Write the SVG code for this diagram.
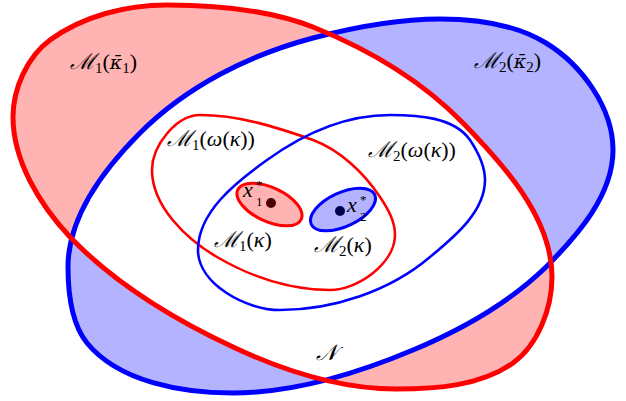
<svg xmlns="http://www.w3.org/2000/svg" width="626" height="401" viewBox="0 0 626 401">
<style>
.big{fill:none;stroke-width:5;stroke-linejoin:round}
.mid{fill:none;stroke-width:2.6}
.sm{stroke-width:3}
.r{stroke:#ff0000}
.b{stroke:#0000ff}
.lbl{font-family:"Liberation Serif","DejaVu Serif",serif;font-size:22px;fill:#000}
.cal{font-family:"DejaVu Serif","Liberation Serif",serif;font-size:22px;font-style:italic}
.dv{font-family:"DejaVu Serif",serif;font-size:19px;font-style:italic}
.it{font-style:italic}
.sub{font-size:15px}
.ss{font-size:13px}
</style>
<defs>
<path id="redBig" d="M167,5 C216,5 267,9 313,27 C368,49 422,81 463,123 C504,165 552,218 552,277 C552,308 538,345 513,363 C481,386 436,389 396,389 C340,389 284,371 233,347 C173,319 116,285 70,237 C40,205 13,161 13,117 C13,89 27,57 50,40 C83,16 126,5 167,5 Z"/>
<path id="blueBig" d="M440,19 C476,19 515,24 546,43 C582,65 613,108 613,150 C613,195 578,235 546,267 C509,303 461,330 413,350 C356,374 295,393 233,393 C182,393 119,382 87,343 C71,323 68,293 68,267 C68,216 104,169 140,133 C187,86 249,55 313,38 C355,27 397,19 440,19 Z"/>
<clipPath id="clipBlue"><use href="#blueBig"/></clipPath>
</defs>
<g id="regions">
<use href="#redBig" fill="#ffb3b3"/>
<use href="#blueBig" fill="#b3b3ff"/>
<use href="#redBig" fill="#ffffff" clip-path="url(#clipBlue)"/>
</g>
<g id="node-M2-kbar2"><use href="#blueBig" class="big b"/></g>
<g id="node-M1-kbar1"><use href="#redBig" class="big r"/></g>
<g id="node-M1-omega">
<path class="mid r" d="M200,115 C239,115 276,127 313,140 C340,150 364,173 380,197 C388,209 395,221 395,235 C395,263 358,290 330,290 C291,290 251,277 217,257 C186,239 152,206 152,170 C152,146 176,115 200,115 Z"/>
</g>
<g id="node-M2-omega">
<path class="mid b" d="M390,115 C418,115 454,117 470,140 C478,152 485,166 485,180 C485,212 454,237 430,257 C390,291 333,310 280,310 C246,310 198,284 198,250 C198,212 236,182 267,160 C303,134 346,115 390,115 Z"/>
</g>
<g id="node-M1-k">
<ellipse cx="269.5" cy="204.5" rx="35" ry="17" transform="rotate(25 269.5 204.5)" fill="#ffb3b3" class="sm r"/>
<circle cx="271" cy="203" r="5" fill="#4d0000"/>
</g>
<g id="node-M2-k">
<ellipse cx="343" cy="209.5" rx="35" ry="17" transform="rotate(-25 343 209.5)" fill="#b3b3ff" class="sm b"/>
<circle cx="340" cy="211" r="5" fill="#00004d"/>
</g>
<g id="labels" class="lbl">
<text x="70" y="69"><tspan class="cal">ℳ</tspan><tspan class="sub" dy="4">1</tspan><tspan dy="-4">(</tspan><tspan class="dv">κ̄</tspan><tspan class="sub" dy="4">1</tspan><tspan dy="-4">)</tspan></text>
<text x="474" y="68"><tspan class="cal">ℳ</tspan><tspan class="sub" dy="4">2</tspan><tspan dy="-4">(</tspan><tspan class="dv">κ̄</tspan><tspan class="sub" dy="4">2</tspan><tspan dy="-4">)</tspan></text>
<text x="167" y="146"><tspan class="cal">ℳ</tspan><tspan class="sub" dy="4">1</tspan><tspan dy="-4">(</tspan><tspan class="it">ω</tspan>(<tspan class="it">κ</tspan>))</text>
<text x="368" y="157"><tspan class="cal">ℳ</tspan><tspan class="sub" dy="4">2</tspan><tspan dy="-4">(</tspan><tspan class="it">ω</tspan>(<tspan class="it">κ</tspan>))</text>
<text x="243" y="197" class="it">x</text>
<text x="256" y="189" class="ss">*</text>
<text x="256" y="206" class="ss">1</text>
<text x="347" y="212" class="it">x</text>
<text x="360" y="204" class="ss">*</text>
<text x="360" y="221" class="ss">2</text>
<text x="214" y="247"><tspan class="cal">ℳ</tspan><tspan class="sub" dy="4">1</tspan><tspan dy="-4">(</tspan><tspan class="it">κ</tspan>)</text>
<text x="314" y="252"><tspan class="cal">ℳ</tspan><tspan class="sub" dy="4">2</tspan><tspan dy="-4">(</tspan><tspan class="it">κ</tspan>)</text>
<text x="316" y="360" class="cal">𝒩</text>
</g>
</svg>
